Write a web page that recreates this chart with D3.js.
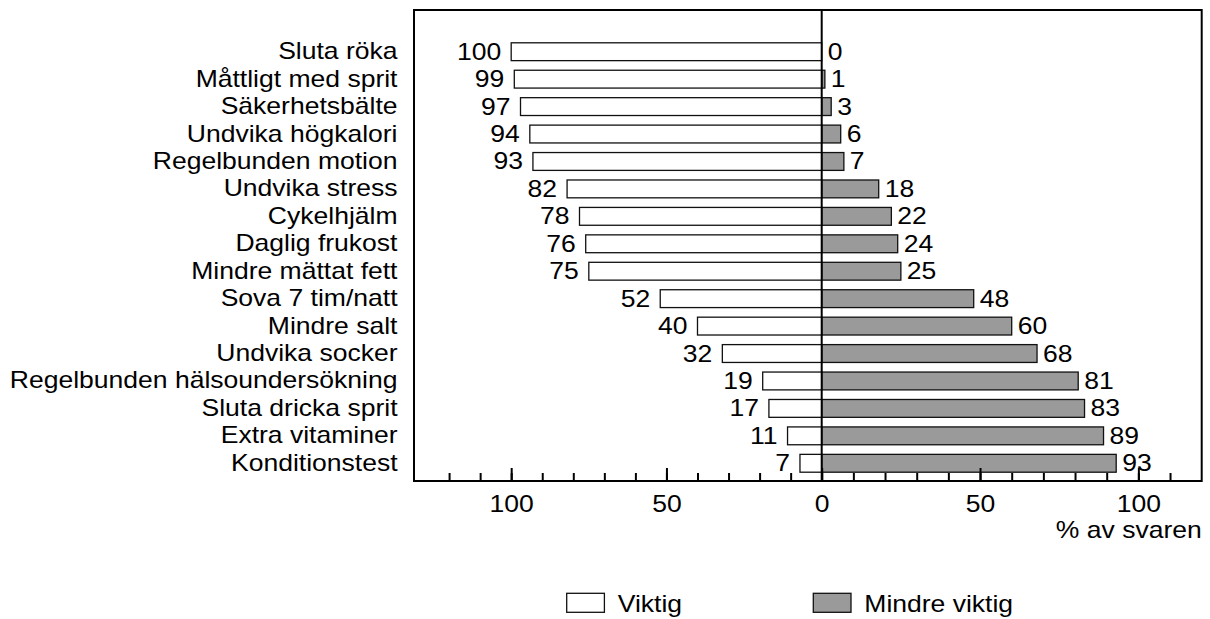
<!DOCTYPE html>
<html>
<head>
<meta charset="utf-8">
<script src="https://cdn.jsdelivr.net/npm/d3@7"></script>
<style>
  html, body { margin: 0; padding: 0; background: #fff; }
  svg { display: block; font-family: "Liberation Sans", Arial, Helvetica, sans-serif; }
</style>
</head>
<body>
<svg id="chart" width="1210" height="619"></svg>
<script>
// Health habits: share answering "Viktig" vs "Mindre viktig" (percent)
const categories = [
  "Sluta röka", "Måttligt med sprit", "Säkerhetsbälte", "Undvika högkalori",
  "Regelbunden motion", "Undvika stress", "Cykelhjälm", "Daglig frukost",
  "Mindre mättat fett", "Sova 7 tim/natt", "Mindre salt", "Undvika socker",
  "Regelbunden hälsoundersökning", "Sluta dricka sprit", "Extra vitaminer", "Konditionstest"
];
const viktig = [100, 99, 97, 94, 93, 82, 78, 76, 75, 52, 40, 32, 19, 17, 11, 7];
const mindreViktig = [0, 1, 3, 6, 7, 18, 22, 24, 25, 48, 60, 68, 81, 83, 89, 93];
const majorTicks = [-100, -50, 0, 50, 100];
const minorTicks = d3.range(-120, 111, 10);
const seriesNames = ["Viktig", "Mindre viktig"];
const axisTitle = "% av svaren";

const FONT = 24;      // px
const SX = 1.105;     // wide letterforms
const GRAY = "#9a9a9a";

const svg = d3.select("#chart");

const frame = { left: 414, right: 1201.7, top: 10, bottom: 481 };

// Diverging scale: "Viktig" to the left of zero, "Mindre viktig" to the right
const x = d3.scaleLinear()
  .domain([-131.3, 0, 120])
  .range([frame.left, 821.7, frame.right]);

const y = d3.scaleBand()
  .domain(categories)
  .range([38, 477])
  .paddingInner(0.35)
  .paddingOuter(0.175);

function wideText(sel) {
  return sel.attr("font-size", FONT).attr("fill", "#000");
}

const rows = categories.map((c, i) => ({ c, v: viktig[i], m: mindreViktig[i] }));

// Bars
const g = svg.append("g");
g.selectAll("rect.v").data(rows).join("rect")
  .attr("class", "v")
  .attr("x", d => x(-d.v))
  .attr("y", d => y(d.c))
  .attr("width", d => x(0) - x(-d.v))
  .attr("height", y.bandwidth())
  .attr("fill", "#fff")
  .attr("stroke", "#111")
  .attr("stroke-width", 1.3);

g.selectAll("rect.m").data(rows).join("rect")
  .attr("class", "m")
  .attr("x", x(0))
  .attr("y", d => y(d.c))
  .attr("width", d => x(d.m) - x(0))
  .attr("height", y.bandwidth())
  .attr("fill", GRAY)
  .attr("stroke", "#111")
  .attr("stroke-width", 1.3);

// Value labels
g.selectAll("text.vl").data(rows).join("text")
  .attr("class", "vl")
  .attr("transform", d => `translate(${x(-d.v) - 10},${y(d.c) + y.bandwidth() / 2 + 8}) scale(${SX},1)`)
  .attr("text-anchor", "end")
  .call(wideText)
  .text(d => d.v);

g.selectAll("text.ml").data(rows).join("text")
  .attr("class", "ml")
  .attr("transform", d => `translate(${x(d.m) + 6},${y(d.c) + y.bandwidth() / 2 + 8}) scale(${SX},1)`)
  .attr("text-anchor", "start")
  .call(wideText)
  .text(d => d.m);

// Category labels
svg.append("g").selectAll("text").data(categories).join("text")
  .attr("transform", d => `translate(397.5,${y(d) + y.bandwidth() / 2 + 7.5}) scale(${SX},1)`)
  .attr("text-anchor", "end")
  .call(wideText)
  .text(d => d);

// Zero line
svg.append("line")
  .attr("x1", x(0)).attr("x2", x(0))
  .attr("y1", frame.top).attr("y2", frame.bottom)
  .attr("stroke", "#000").attr("stroke-width", 2);

// Axis ticks pointing into the plot
const minorAxis = d3.axisBottom(x).tickValues(minorTicks).tickSize(-8).tickFormat("");
const majorAxis = d3.axisBottom(x).tickValues(majorTicks).tickSize(-13).tickPadding(14)
  .tickFormat(d => Math.abs(d));

const ax1 = svg.append("g").attr("transform", `translate(0,${frame.bottom})`).call(minorAxis);
const ax2 = svg.append("g").attr("transform", `translate(0,${frame.bottom})`).call(majorAxis);
[ax1, ax2].forEach(a => {
  a.select(".domain").remove();
  a.selectAll(".tick line").attr("stroke", "#000").attr("stroke-width", 2);
});
ax2.selectAll(".tick text")
  .attr("font-size", FONT)
  .attr("font-family", "Liberation Sans, Arial, sans-serif")
  .attr("fill", "#000")
  .attr("transform", `scale(${SX},1)`);

// Plot frame
svg.append("rect")
  .attr("x", frame.left).attr("y", frame.top)
  .attr("width", frame.right - frame.left).attr("height", frame.bottom - frame.top)
  .attr("fill", "none").attr("stroke", "#000").attr("stroke-width", 2);

// Axis title
svg.append("text")
  .attr("transform", `translate(${frame.right},538) scale(${SX},1)`)
  .attr("text-anchor", "end")
  .call(wideText)
  .text(axisTitle);

// Legend
const legend = svg.append("g");
const legendItems = [
  { name: seriesNames[0], fill: "#fff", x: 566.7 },
  { name: seriesNames[1], fill: GRAY, x: 813.3 }
];
legendItems.forEach(it => {
  legend.append("rect")
    .attr("x", it.x).attr("y", 593.3)
    .attr("width", 37.7).attr("height", 19)
    .attr("fill", it.fill).attr("stroke", "#111").attr("stroke-width", 1.3);
  legend.append("text")
    .attr("transform", `translate(${it.x + 51},612) scale(${SX},1)`)
    .call(wideText)
    .text(it.name);
});
</script>
</body>
</html>
